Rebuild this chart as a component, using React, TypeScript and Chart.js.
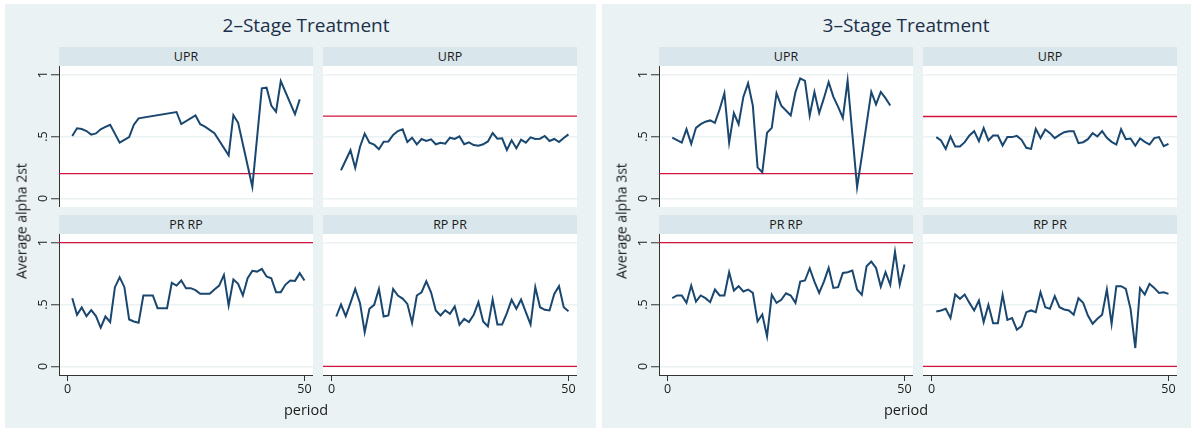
import React, { useEffect, useRef } from 'react';
import { Chart, registerables } from 'chart.js';

Chart.register(...registerables);

// ---------- data ----------
const periods = [1, 2, 3, 4, 5, 6, 7, 8, 9, 10, 11, 12, 13, 14, 15, 16, 17, 18, 19, 20, 21, 22, 23, 24, 25, 26, 27, 28, 29, 30, 31, 32, 33, 34, 35, 36, 37, 38, 39, 40, 41, 42, 43, 44, 45, 46, 47, 48, 49, 50];

const facetNames = ['UPR', 'URP', 'PR RP', 'RP PR'];
const panelTitles = ['2\u2013Stage Treatment', '3\u2013Stage Treatment'];
const yAxisTitles = ['Average alpha 2st', 'Average alpha 3st'];
const xAxisTitle = 'period';

const yTickValues = [0, 0.5, 1];
const yTickLabels = ['0', '.5', '1'];
const xTickValues = [0, 50];
const xTickLabels = ['0', '50'];

// reference (red) lines per facet
const refLines2 = [0.2, 0.665, 1, 0];
const refLines3 = [0.2, 0.662, 1, 0];

// 2-stage treatment
const upr2 = [0.504, 0.566, 0.56, 0.544, 0.515, 0.525, 0.558, 0.577, 0.595, null,
  0.45, null, 0.496, 0.595, 0.647, null, null, null, null, null,
  null, null, 0.698, 0.6, null, null, 0.67, 0.6, 0.58, null,
  0.526, null, null, 0.348, 0.673, 0.611, null, null, 0.093, null,
  0.889, 0.895, 0.75, 0.7, 0.948, null, null, 0.68, 0.8, null];
const urp2 = [null, 0.227, null, 0.389, 0.246, 0.415, 0.523, 0.45, 0.434, 0.397,
  0.458, 0.46, 0.512, 0.544, 0.558, 0.455, 0.49, 0.437, 0.48, 0.464,
  0.477, 0.437, 0.45, 0.442, 0.49, 0.48, 0.501, 0.437, 0.453, 0.431,
  0.426, 0.437, 0.46, 0.528, 0.482, 0.485, 0.391, 0.469, 0.405, 0.474,
  0.45, 0.493, 0.48, 0.482, 0.504, 0.464, 0.48, 0.455, 0.488, 0.517];
const prrp2 = [0.551, 0.417, 0.476, 0.406, 0.454, 0.406, 0.312, 0.403, 0.358, 0.64,
  0.72, 0.64, 0.379, 0.363, 0.352, 0.573, 0.573, 0.573, 0.47, 0.47,
  0.47, 0.675, 0.653, 0.694, 0.632, 0.632, 0.616, 0.586, 0.586, 0.586,
  0.621, 0.653, 0.739, 0.492, 0.702, 0.667, 0.573, 0.712, 0.772, 0.766,
  0.788, 0.726, 0.712, 0.6, 0.6, 0.661, 0.694, 0.691, 0.753, 0.694];
const rppr2 = [0.403, 0.5, 0.406, 0.513, 0.626, 0.513, 0.277, 0.465, 0.497, 0.626,
  0.403, 0.411, 0.626, 0.573, 0.548, 0.505, 0.352, 0.573, 0.599, 0.688,
  0.599, 0.452, 0.411, 0.452, 0.425, 0.484, 0.336, 0.384, 0.358, 0.417,
  0.519, 0.363, 0.323, 0.54, 0.339, 0.339, 0.43, 0.538, 0.465, 0.54,
  0.438, 0.339, 0.64, 0.478, 0.457, 0.452, 0.586, 0.648, 0.478, 0.446];

// 3-stage treatment
const upr3 = [0.49, 0.47, 0.45, 0.56, 0.44, 0.57, 0.6, 0.62, 0.63, 0.61,
  0.72, 0.85, 0.45, 0.69, 0.6, 0.82, 0.93, 0.75, 0.25, 0.21,
  0.53, 0.57, 0.85, 0.75, 0.71, 0.67, 0.86, 0.97, 0.95, 0.67,
  0.86, 0.69, 0.81, 0.94, 0.82, 0.74, 0.65, 0.95, 0.52, 0.09,
  0.34, 0.6, 0.86, 0.76, 0.86, 0.81, 0.75, null, null, null];
const urp3 = [0.495, 0.468, 0.4, 0.5, 0.42, 0.42, 0.454, 0.508, 0.543, 0.462,
  0.567, 0.468, 0.508, 0.508, 0.427, 0.495, 0.495, 0.505, 0.473, 0.409,
  0.4, 0.562, 0.487, 0.556, 0.527, 0.487, 0.513, 0.535, 0.543, 0.543,
  0.446, 0.454, 0.478, 0.527, 0.5, 0.543, 0.489, 0.457, 0.435, 0.559,
  0.478, 0.484, 0.425, 0.484, 0.457, 0.435, 0.487, 0.495, 0.422, 0.441];
const prrp3 = [0.551, 0.573, 0.573, 0.513, 0.653, 0.524, 0.573, 0.551, 0.519, 0.621,
  0.573, 0.573, 0.761, 0.613, 0.648, 0.605, 0.621, 0.594, 0.363, 0.419,
  0.242, 0.578, 0.513, 0.538, 0.591, 0.573, 0.513, 0.685, 0.694, 0.793,
  0.685, 0.594, 0.685, 0.796, 0.634, 0.64, 0.755, 0.761, 0.774, 0.621,
  0.578, 0.809, 0.847, 0.796, 0.645, 0.761, 0.659, 0.927, 0.661, 0.823];
const rppr3 = [0.444, 0.452, 0.465, 0.39, 0.581, 0.546, 0.581, 0.513, 0.452, 0.532,
  0.358, 0.497, 0.349, 0.349, 0.578, 0.376, 0.39, 0.296, 0.325, 0.438,
  0.452, 0.438, 0.599, 0.478, 0.465, 0.567, 0.478, 0.46, 0.452, 0.417,
  0.551, 0.513, 0.411, 0.344, 0.384, 0.417, 0.621, 0.344, 0.648, 0.648,
  0.626, 0.465, 0.148, 0.632, 0.581, 0.667, 0.634, 0.594, 0.599, 0.586];

const series2 = [upr2, urp2, prrp2, rppr2];
const series3 = [upr3, urp3, prrp3, rppr3];

// ---------- style / layout ----------
const FONT = "'Open Sans', 'Noto Sans', 'DejaVu Sans', sans-serif";
const NAVY = '#1a476f';
const RED = '#d2143c';
const PANEL_BG = '#eaf2f3';
const STRIP_BG = '#d9e6eb';
const GRID = '#eaf2f3';
const AXIS = '#333333';
const TEXT = '#1a1a1a';

const X_MIN = -1.8;
const X_MAX = 51.8;
const Y_MIN = -0.07;
const Y_MAX = 1.07;

const PANEL_OFFSET = 600;
const COL_LEFT = [59, 323];
const PLOT_W = 254;
const PLOT_H = 141;
const ROW_TOP = [66, 234];
const STRIP_TOP = [47, 215];
const STRIP_H = 19;
const Y_AXIS_W = 30;
const X_AXIS_H = 28;

const refLinePlugin = {
  id: 'refLine',
  beforeDatasetsDraw(chart: any, _args: any, opts: any) {
    const v = opts && opts.value;
    if (v === null || v === undefined) return;
    const y = chart.scales.y.getPixelForValue(v);
    const { left, right } = chart.chartArea;
    const ctx = chart.ctx;
    ctx.save();
    ctx.strokeStyle = RED;
    ctx.lineWidth = 1.4;
    ctx.beginPath();
    ctx.moveTo(left, y);
    ctx.lineTo(right, y);
    ctx.stroke();
    ctx.restore();
  },
};

function zeroPadding(s: any) {
  s.paddingTop = 0;
  s.paddingBottom = 0;
  s.paddingLeft = 0;
  s.paddingRight = 0;
}

type FacetProps = {
  values: (number | null)[];
  refValue: number;
  col: number;
  row: number;
  panel: number;
};

function Facet({ values, refValue, col, row, panel }: FacetProps) {
  const ref = useRef<HTMLCanvasElement>(null);
  const showY = col === 0;
  const showX = row === 1;
  const yw = showY ? Y_AXIS_W : 0;
  const xh = showX ? X_AXIS_H : 0;
  const width = yw + PLOT_W;
  const height = PLOT_H + xh;
  const left = panel * PANEL_OFFSET + COL_LEFT[col] - yw;
  const top = ROW_TOP[row];

  useEffect(() => {
    if (!ref.current) return;
    const chart = new Chart(ref.current, {
      type: 'line',
      data: {
        datasets: [
          {
            data: periods.map((p, i) => ({ x: p, y: values[i] })) as any,
            borderColor: NAVY,
            borderWidth: 2,
            pointRadius: 0,
            spanGaps: true,
            tension: 0,
            fill: false,
            borderJoinStyle: 'miter',
          },
        ],
      },
      options: {
        animation: false,
        responsive: false,
        events: [],
        layout: { padding: 0, autoPadding: false } as any,
        plugins: {
          legend: { display: false },
          tooltip: { enabled: false },
          refLine: { value: refValue },
        } as any,
        scales: {
          x: {
            type: 'linear',
            min: X_MIN,
            max: X_MAX,
            display: showX,
            afterBuildTicks: (s: any) => {
              s.ticks = xTickValues.map((v) => ({ value: v }));
            },
            afterFit: (s: any) => {
              s.height = xh;
              zeroPadding(s);
            },
            grid: {
              display: true,
              drawOnChartArea: false,
              drawTicks: true,
              tickLength: 6,
              tickColor: AXIS,
            },
            border: { display: true, color: AXIS, width: 1 },
            ticks: {
              font: { family: FONT, size: 12.5 },
              color: TEXT,
              padding: 1,
              maxRotation: 0,
              minRotation: 0,
              callback: (_v: any, i: number) => xTickLabels[i],
            },
          },
          y: {
            type: 'linear',
            min: Y_MIN,
            max: Y_MAX,
            display: true,
            afterBuildTicks: (s: any) => {
              s.ticks = yTickValues.map((v) => ({ value: v }));
            },
            afterFit: (s: any) => {
              s.width = yw;
              zeroPadding(s);
            },
            grid: {
              display: true,
              color: GRID,
              lineWidth: 1.5,
              drawTicks: showY,
              tickLength: 8,
              tickColor: AXIS,
              tickWidth: 1,
            },
            border: { display: showY, color: AXIS, width: 1 },
            ticks: {
              display: showY,
              font: { family: FONT, size: 12.5 },
              color: TEXT,
              padding: 2,
              minRotation: 90,
              maxRotation: 90,
              crossAlign: 'center',
              callback: (_v: any, i: number) => yTickLabels[i],
            },
          },
        } as any,
      },
      plugins: [refLinePlugin as any],
    });
    return () => chart.destroy();
  }, []);

  return (
    <canvas
      ref={ref}
      width={width}
      height={height}
      style={{ position: 'absolute', left, top, width, height }}
    />
  );
}

function Panel({ panel }: { panel: number }) {
  const ox = panel * PANEL_OFFSET;
  const data = panel === 0 ? series2 : series3;
  const refs = panel === 0 ? refLines2 : refLines3;
  const bgLeft = panel === 0 ? 5 : 602;
  const bgWidth = panel === 0 ? 591 : 589;
  return (
    <>
      <div
        style={{
          position: 'absolute',
          left: bgLeft,
          top: 4,
          width: bgWidth,
          height: 424,
          background: PANEL_BG,
        }}
      />
      <div
        style={{
          position: 'absolute',
          left: ox + 306,
          top: 25,
          transform: 'translate(-50%, -50%)',
          whiteSpace: 'nowrap',
          fontFamily: FONT,
          fontSize: 19,
          color: '#1c2f4a',
        }}
      >
        {panelTitles[panel]}
      </div>
      {facetNames.map((name, k) => {
        const row = Math.floor(k / 2);
        const col = k % 2;
        return (
          <React.Fragment key={name}>
            <div
              style={{
                position: 'absolute',
                left: ox + COL_LEFT[col],
                top: STRIP_TOP[row],
                width: PLOT_W,
                height: STRIP_H,
                background: STRIP_BG,
                fontFamily: FONT,
                fontSize: 12.5,
                color: TEXT,
                display: 'flex',
                alignItems: 'center',
                justifyContent: 'center',
              }}
            >
              {name}
            </div>
            <div
              style={{
                position: 'absolute',
                left: ox + COL_LEFT[col],
                top: ROW_TOP[row],
                width: PLOT_W,
                height: PLOT_H,
                background: '#ffffff',
              }}
            />
            <Facet values={data[k]} refValue={refs[k]} col={col} row={row} panel={panel} />
          </React.Fragment>
        );
      })}
      <div
        style={{
          position: 'absolute',
          left: ox + 21,
          top: (ROW_TOP[0] + ROW_TOP[1] + PLOT_H) / 2,
          transform: 'translate(-50%, -50%) rotate(-90deg)',
          whiteSpace: 'nowrap',
          fontFamily: FONT,
          fontSize: 14,
          color: TEXT,
        }}
      >
        {yAxisTitles[panel]}
      </div>
      <div
        style={{
          position: 'absolute',
          left: ox + 306,
          top: 409,
          transform: 'translate(-50%, -50%)',
          whiteSpace: 'nowrap',
          fontFamily: FONT,
          fontSize: 14.5,
          color: TEXT,
        }}
      >
        {xAxisTitle}
      </div>
    </>
  );
}

export default function App() {
  return (
    <div
      style={{
        position: 'absolute',
        left: 0,
        top: 0,
        width: 1191,
        height: 432,
        background: '#ffffff',
        overflow: 'hidden',
      }}
    >
      <Panel panel={0} />
      <Panel panel={1} />
    </div>
  );
}
